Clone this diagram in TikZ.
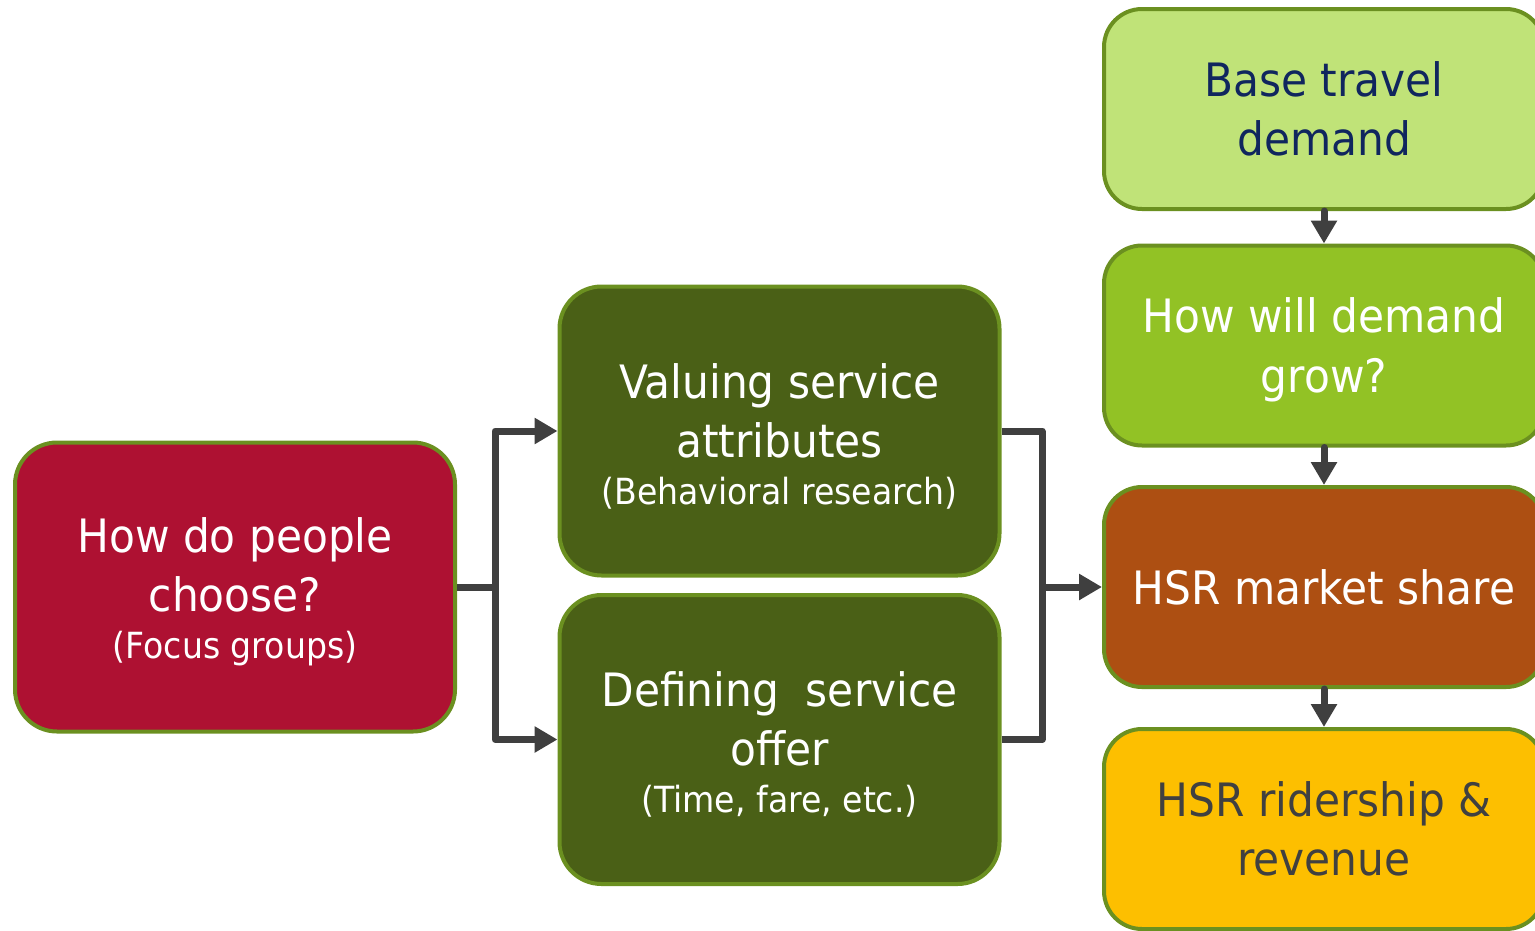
\documentclass[tikz,border=0pt]{standalone}
\usepackage{fontspec}
\setmainfont{DejaVu Sans}[FakeStretch=0.92]
\usetikzlibrary{arrows.meta}
\definecolor{bord}{HTML}{6B9020}
\definecolor{redf}{HTML}{AE1132}
\definecolor{dgreen}{HTML}{4A6016}
\definecolor{lgreen}{HTML}{C0E378}
\definecolor{mgreen}{HTML}{92C225}
\definecolor{brownf}{HTML}{AD4F12}
\definecolor{yellowf}{HTML}{FDBF00}
\definecolor{navy}{HTML}{10265E}
\definecolor{conn}{HTML}{3F3F3F}
\definecolor{dgray}{HTML}{404040}
\tikzset{
  box/.style={draw=bord, line width=4pt, rounded corners=42pt, align=center,
    minimum width=440pt, text=white, inner sep=0pt},
  tallbox/.style={box, minimum height=289pt},
  shortbox/.style={box, minimum height=200pt, rounded corners=38pt},
  big/.style={font=\fontsize{46}{59}\selectfont},
  txt/.style={align=center, inner sep=0pt, text=white, big},
  wire/.style={draw=conn, line width=7pt, line join=round},
  arr/.style={wire, line cap=round, -{Triangle[length=23pt,width=25pt]}},
}
\newcommand{\smalltxt}[1]{{\fontsize{36}{50}\selectfont #1}}
\begin{document}
\begin{tikzpicture}[x=1pt,y=-1pt]
\useasboundingbox (0,0) rectangle (1535,930);
\clip (0,0) rectangle (1535,930);
\node[tallbox, fill=redf] (red) at (235,587) {};
\node[txt] (redt) at ([yshift=-5pt]red.center)
  {How do people\\choose?\\[-12pt]\smalltxt{(Focus groups)}};
\node[tallbox, fill=dgreen] (val) at (779.5,431) {};
\node[txt] (valt) at ([yshift=-5pt]val.center)
  {Valuing service\\attributes\\[-12pt]\smalltxt{(Behavioral research)}};
\node[tallbox, fill=dgreen] (def) at (779.5,739.5) {};
\node[txt] (deft) at ([yshift=-5pt]def.center)
  {Defining\ \ service\\offer\\[-12pt]\smalltxt{(Time,\ fare,\ etc.)}};
\node[shortbox, fill=lgreen, text=navy, big] (base) at (1324,109) {Base travel\\demand};
\node[shortbox, fill=mgreen] (grow) at (1324,345.5) {};
\node[txt, font=\fontsize{46}{60}\selectfont] (growt) at ([yshift=-4pt]grow.center) {How will demand\\grow?};
\node[shortbox, fill=brownf, big] (mkt) at (1324,587) {HSR market share};
\node[shortbox, fill=yellowf, text=dgray, big] (rid) at (1324,829) {HSR ridership \&\\revenue};
\coordinate (jl) at (495,587);
\coordinate (jr) at (1042,587);
\draw[wire] (red.east) -- (jl);
\draw[arr, line cap=butt] (jl) |- (val.west);
\draw[arr, line cap=butt] (jl) |- (def.west);
\draw[wire] (val.east) -| (jr);
\draw[wire] (def.east) -| (jr);
\draw[arr, line cap=butt] (jr) -- (mkt.west);
\draw[arr] (base.south) -- (grow.north);
\draw[arr] (grow.south) -- (mkt.north);
\draw[arr] (mkt.south) -- (rid.north);
\end{tikzpicture}
\end{document}
